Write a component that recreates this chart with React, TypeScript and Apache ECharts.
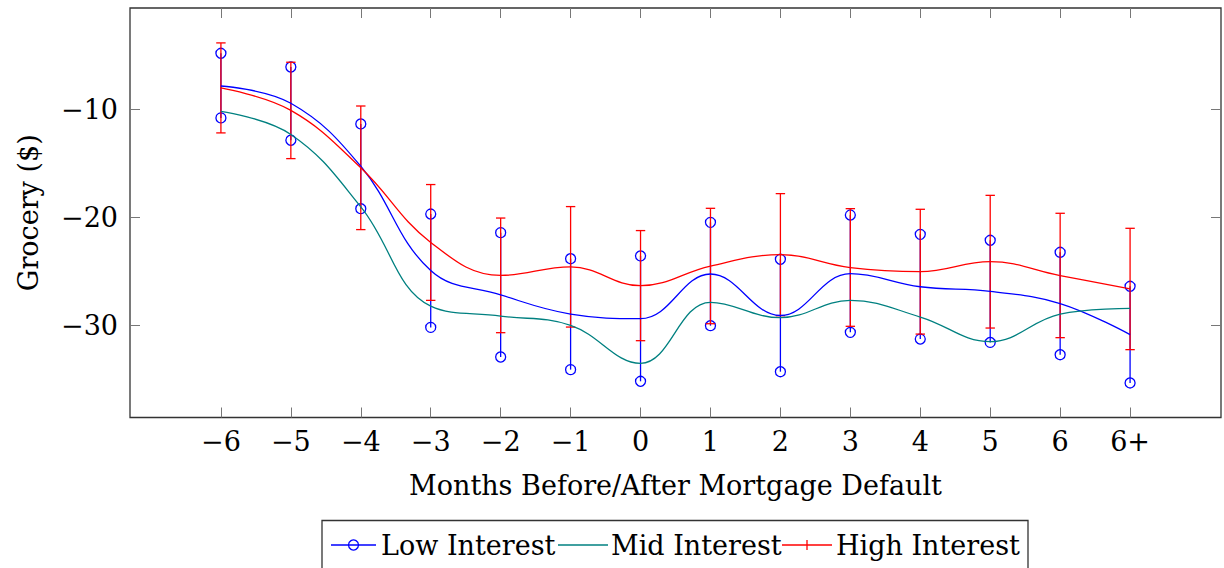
import React, { useEffect, useRef } from "react";
import * as echarts from "echarts";

const X_LABELS = ["−6", "−5", "−4", "−3", "−2", "−1", "0", "1", "2", "3", "4", "5", "6", "6+"];
const Y_TICKS = [-30, -20, -10];

const LOW_MEAN = [-7.82, -9.42, -15.25, -24.9, -27.15, -28.93, -29.35, -25.22, -29.06, -25.19, -26.4, -26.83, -27.95, -30.83];
const LOW_UPPER = [-4.79, -6.06, -11.33, -19.67, -21.39, -23.8, -23.55, -20.44, -23.86, -19.76, -21.55, -22.1, -23.21, -26.36];
const LOW_LOWER = [-10.77, -12.84, -19.17, -30.16, -32.9, -34.07, -35.15, -30.0, -34.26, -30.62, -31.24, -31.55, -32.69, -35.3];

const MID_MEAN = [-10.16, -12.3, -19.0, -28.2, -29.11, -29.97, -33.49, -27.84, -29.26, -27.66, -29.2, -31.48, -28.93, -28.4];

const HIGH_MEAN = [-8.0, -10.08, -15.39, -22.3, -25.35, -24.56, -26.3, -24.48, -23.43, -24.62, -25.0, -24.08, -25.36, -26.6];
const HIGH_UPPER = [-3.83, -5.62, -9.67, -16.94, -20.04, -18.98, -21.2, -19.14, -17.78, -19.17, -19.23, -17.94, -19.6, -20.99];
const HIGH_LOWER = [-12.16, -14.54, -21.11, -27.66, -30.65, -30.13, -31.39, -29.82, -29.08, -30.06, -30.78, -30.22, -31.11, -32.22];

const SERIES_NAMES = ["Low Interest", "Mid Interest", "High Interest"];

const BLUE = "#0000ff";
const TEAL = "#008080";
const RED = "#ff0000";
const FONT = "DejaVu Serif";
const FS = 27;

const IDX = X_LABELS.map((_, i) => i);

export default function App() {
  const ref = useRef<HTMLDivElement>(null);
  useEffect(() => {
    if (!ref.current) return;
    const chart = echarts.init(ref.current, null, { renderer: "svg" });

    const lineData = (arr: number[]) => IDX.map((i) => [i, arr[i]]);
    const errData = (lo: number[], hi: number[]) => IDX.map((i) => [i, lo[i], hi[i]]);

    const errSeries = (name: string, lo: number[], hi: number[], color: string, kind: "circle" | "cap") => ({
      type: "custom",
      name,
      data: errData(lo, hi),
      encode: { x: 0, y: [1, 2] },
      z: kind === "cap" ? 4 : 3,
      renderItem: (params: any, api: any) => {
        const x = api.value(0);
        const pLo = api.coord([x, api.value(1)]);
        const pHi = api.coord([x, api.value(2)]);
        const children: any[] = [
          {
            type: "line",
            shape: { x1: pLo[0], y1: pLo[1], x2: pHi[0], y2: pHi[1] },
            style: { stroke: color, lineWidth: 1.3 },
          },
        ];
        if (kind === "circle") {
          [pLo, pHi].forEach((p) =>
            children.push({
              type: "circle",
              shape: { cx: p[0], cy: p[1], r: 5 },
              style: { stroke: color, fill: "none", lineWidth: 1.3 },
            })
          );
        } else {
          [pLo, pHi].forEach((p) =>
            children.push({
              type: "line",
              shape: { x1: p[0] - 4.7, y1: p[1], x2: p[0] + 4.7, y2: p[1] },
              style: { stroke: color, lineWidth: 1.3 },
            })
          );
        }
        return { type: "group", children };
      },
    });

    const lineSeries = (name: string, arr: number[], color: string, z: number) => ({
      type: "line",
      name,
      data: lineData(arr),
      smooth: 0.4,
      symbol: "none",
      z,
      lineStyle: { color, width: 1.3 },
      itemStyle: { color },
    });

    const axisCommon = {
      axisLine: { show: false, onZero: false },
      splitLine: { show: false },
    };
    const tickStyle = { color: "#777", width: 1 };

    const legendY = 545;
    const legendText = (text: string, x: number) => ({
      type: "text",
      x,
      y: legendY,
      style: { text, fill: "#000", font: `${FS}px "${FONT}"`, textVerticalAlign: "middle", textAlign: "left" },
    });

    chart.setOption({
      animation: false,
      grid: {
        left: 130,
        top: 8,
        width: 1091,
        height: 409.5,
        show: true,
        borderColor: "#333",
        borderWidth: 1.3,
        backgroundColor: "transparent",
      },
      xAxis: [
        {
          type: "value",
          min: -1.3,
          max: 14.3,
          ...axisCommon,
          name: "Months Before/After Mortgage Default",
          nameLocation: "middle",
          nameGap: 54,
          nameTextStyle: { fontFamily: FONT, fontSize: FS, color: "#000" },
          axisTick: { show: true, inside: true, length: 10, customValues: IDX, lineStyle: tickStyle },
          axisLabel: {
            show: true,
            customValues: IDX,
            margin: 10,
            fontFamily: FONT,
            fontSize: FS,
            color: "#000",
            formatter: (v: number) => X_LABELS[Math.round(v)] ?? "",
          },
        },
        {
          type: "value",
          position: "top",
          min: -1.3,
          max: 14.3,
          ...axisCommon,
          axisTick: { show: true, inside: true, length: 10, customValues: IDX, lineStyle: tickStyle },
          axisLabel: { show: false },
        },
      ],
      yAxis: [
        {
          type: "value",
          position: "left",
          min: -38.5,
          max: -0.6,
          ...axisCommon,
          name: "Grocery ($)",
          nameLocation: "middle",
          nameRotate: 90,
          nameGap: 88,
          nameTextStyle: { fontFamily: FONT, fontSize: FS, color: "#000" },
          axisTick: { show: true, inside: true, length: 10, customValues: Y_TICKS, lineStyle: tickStyle },
          axisLabel: {
            show: true,
            customValues: Y_TICKS,
            margin: 12,
            fontFamily: FONT,
            fontSize: FS,
            color: "#000",
            formatter: (v: number) => String(v).replace("-", "−"),
          },
        },
        {
          type: "value",
          position: "right",
          min: -38.5,
          max: -0.6,
          ...axisCommon,
          axisTick: { show: true, inside: true, length: 10, customValues: Y_TICKS, lineStyle: tickStyle },
          axisLabel: { show: false },
        },
      ],
      series: [
        errSeries(SERIES_NAMES[0] + " error", LOW_LOWER, LOW_UPPER, BLUE, "circle"),
        lineSeries(SERIES_NAMES[0], LOW_MEAN, BLUE, 5),
        lineSeries(SERIES_NAMES[1], MID_MEAN, TEAL, 5),
        lineSeries(SERIES_NAMES[2], HIGH_MEAN, RED, 5),
        errSeries(SERIES_NAMES[2] + " error", HIGH_LOWER, HIGH_UPPER, RED, "cap"),
      ],
      graphic: [
        {
          type: "rect",
          shape: { x: 322, y: 520.5, width: 706, height: 60 },
          style: { fill: "#fff", stroke: "#333", lineWidth: 1.3 },
        },
        { type: "line", shape: { x1: 331, y1: legendY, x2: 376, y2: legendY }, style: { stroke: BLUE, lineWidth: 1.3 } },
        { type: "circle", shape: { cx: 353.5, cy: legendY, r: 5 }, style: { stroke: BLUE, fill: "none", lineWidth: 1.3 } },
        legendText(SERIES_NAMES[0], 381),
        { type: "line", shape: { x1: 558, y1: legendY, x2: 608, y2: legendY }, style: { stroke: TEAL, lineWidth: 1.3 } },
        legendText(SERIES_NAMES[1], 611),
        { type: "line", shape: { x1: 782, y1: legendY, x2: 832, y2: legendY }, style: { stroke: RED, lineWidth: 1.3 } },
        { type: "line", shape: { x1: 807, y1: legendY - 5, x2: 807, y2: legendY + 5 }, style: { stroke: RED, lineWidth: 1.3 } },
        legendText(SERIES_NAMES[2], 836),
      ],
    });
    return () => chart.dispose();
  }, []);

  return (
    <div
      ref={ref}
      style={{ position: "absolute", left: 0, top: 0, width: 1224, height: 568, background: "#fff" }}
    />
  );
}
